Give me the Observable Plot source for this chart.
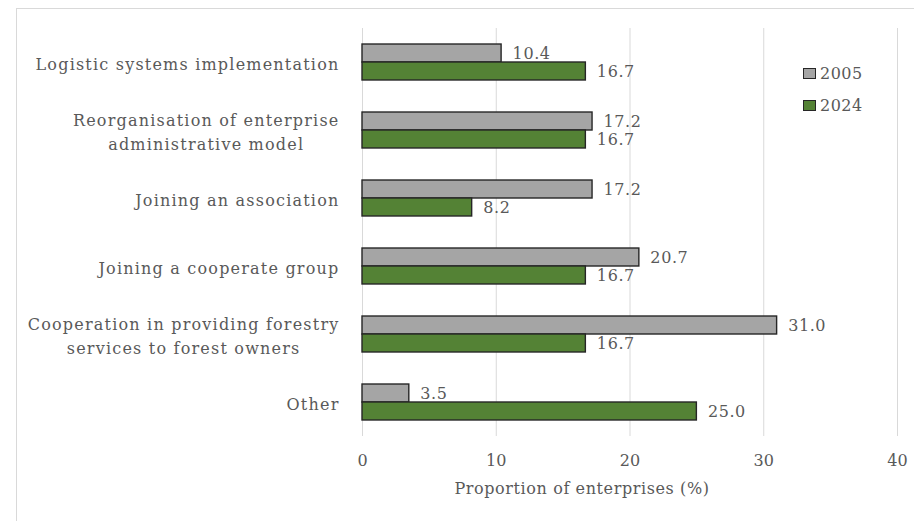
<!DOCTYPE html>
<html>
<head>
<meta charset="utf-8">
<script src="https://cdn.jsdelivr.net/npm/d3@7"></script>
<script src="https://cdn.jsdelivr.net/npm/@observablehq/plot@0.6"></script>
<style>
  html, body { margin: 0; padding: 0; background: #fff; }
  #wrap { position: relative; width: 914px; height: 521px; overflow: hidden; font-family: "DejaVu Serif", serif; }
  #frame { position: absolute; left: 16px; top: 8px; right: -5px; bottom: -5px; border-top: 1.5px solid #d9d9d9; border-left: 1.5px solid #d9d9d9; }
  #chart { position: absolute; left: 0; top: 0; }
  #legend { position: absolute; left: 803px; top: 63px; font-size: 16px; letter-spacing: 0.5px; color: #595959; }
  .item { display: flex; align-items: center; height: 20px; margin-bottom: 12px; }
  .sw { width: 11px; height: 9px; border: 1.5px solid #262626; margin-right: 4px; }
</style>
</head>
<body>
<div id="wrap">
  <div id="frame"></div>
  <div id="chart"></div>
  <div id="legend"></div>
</div>
<script>
const categories = [
  "Logistic systems implementation",
  "Reorganisation of enterprise\nadministrative model",
  "Joining an association",
  "Joining a cooperate group",
  "Cooperation in providing forestry\nservices to forest owners",
  "Other"
];
const years = ["2005", "2024"];
const values2005 = [10.4, 17.2, 17.2, 20.7, 31.0, 3.5];
const values2024 = [16.7, 16.7, 8.2, 16.7, 16.7, 25.0];
const xTicks = [0, 10, 20, 30, 40];
const xTitle = "Proportion of enterprises (%)";
const colors = ["#a5a5a5", "#548235"];

const data = [];
categories.forEach((c, i) => {
  data.push({category: c, year: years[0], value: values2005[i]});
  data.push({category: c, year: years[1], value: values2024[i]});
});

const chart = Plot.plot({
  width: 914,
  height: 521,
  marginTop: 28,
  marginBottom: 85,
  marginLeft: 362,
  marginRight: 17,
  style: {fontFamily: "'DejaVu Serif', serif", fontSize: "16px", color: "#595959", background: "transparent"},
  x: {domain: [0, 40], ticks: xTicks},
  y: {domain: years, paddingInner: 0, paddingOuter: 0.89, axis: null, round: false},
  fy: {domain: categories, padding: 0, axis: null, round: false},
  color: {domain: years, range: colors},
  marks: [
    Plot.gridX(xTicks, {stroke: "#d9d9d9", strokeOpacity: 1, strokeWidth: 1}),
    Plot.axisX(xTicks, {tickSize: 0, tickPadding: 18, label: null, fill: "#595959", fontSize: 16}),
    Plot.axisFy({anchor: "left", tickSize: 0, tickPadding: 23, label: null, fill: "#595959", fontSize: 16, lineHeight: 1.45}),
    Plot.barX(data, {x: "value", y: "year", fy: "category", fill: "year", stroke: "#262626", strokeWidth: 1.4}),
    Plot.text(data, {x: "value", y: "year", fy: "category", text: d => d.value.toFixed(1), textAnchor: "start", dx: 11, fill: "#595959", fontSize: 16}),
    Plot.text([xTitle], {fy: () => categories[categories.length - 1], frameAnchor: "bottom", dy: 57, dx: -48, fill: "#595959", fontSize: 16})
  ]
});
document.getElementById("chart").appendChild(chart);

// widen letter spacing to match the reference's wide serif face
chart.querySelectorAll("[aria-label='fy-axis tick label']").forEach(g => g.style.letterSpacing = "1.2px");
chart.querySelectorAll("[aria-label='text']").forEach(g => g.style.letterSpacing = "0.6px");

// center-align multi-line category labels within their block (right edge kept)
chart.querySelectorAll("[aria-label='fy-axis tick label'] text").forEach(t => {
  if (t.querySelectorAll("tspan").length > 1) {
    const w = t.getBBox().width;
    t.setAttribute("text-anchor", "middle");
    const tr = t.getAttribute("transform") || "";
    t.setAttribute("transform", tr + ` translate(${-w / 2},0)`);
  }
});

const legend = document.getElementById("legend");
years.forEach((y, i) => {
  const item = document.createElement("div");
  item.className = "item";
  const sw = document.createElement("div");
  sw.className = "sw";
  sw.style.background = colors[i];
  const label = document.createElement("span");
  label.textContent = y;
  item.appendChild(sw);
  item.appendChild(label);
  legend.appendChild(item);
});
</script>
</body>
</html>
